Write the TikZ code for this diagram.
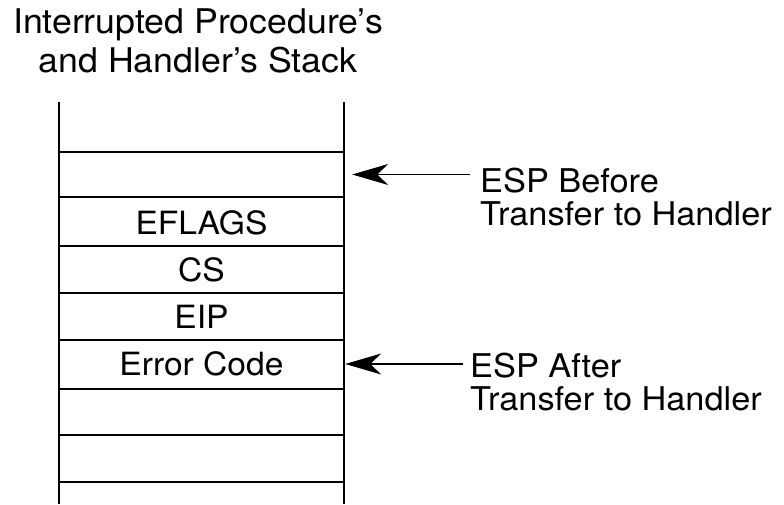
\documentclass[tikz,border=0pt]{standalone}
\usepackage{fontspec}
\setmainfont{TeX Gyre Heros}[FakeStretch=1.05]
\usetikzlibrary{arrows.meta}
\begin{document}
\begin{tikzpicture}[x=1pt,y=-1pt,
  every node/.style={inner sep=0pt},
  txt/.style={font=\fontsize{32}{33}\selectfont},
  rail/.style={line width=2.2pt},
  cell/.style={txt, minimum width=285pt, minimum height=46pt, text height=23pt, text depth=0pt},
  note/.style={font=\fontsize{32.7}{33}\selectfont, align=left, anchor=north west},
  ptr/.style={-{Stealth[length=36pt,width=21pt,inset=11pt]}}]
\useasboundingbox (0,0) rectangle (784,504);

% stack heading
\node[font=\fontsize{34}{39}\selectfont, align=center, anchor=north] (title) at (198,9)
  {Interrupted Procedure’s\\and Handler’s Stack};

% stack walls and slot separators
\draw[rail] (59,102) -- (59,504);
\draw[rail] (344,102) -- (344,504);
\foreach \y in {152,197,246,293,340,389,435,482}
  \draw[rail] (59,\y) -- (344,\y);

% stack slots
\node[cell] (c1) at (201.5,174.5) {};
\node[cell] (c2) at (201.5,223) {EFLAGS};
\node[cell] (c3) at (201.5,269.5) {CS};
\node[cell] (c4) at (201.5,316.5) {EIP};
\node[cell] (c5) at (201.5,364) {Error Code};

% stack pointer labels
\node[note] (before) at (480,168) {ESP Before\\Transfer to Handler};
\node[note] (after) at (470,353) {ESP After\\Transfer to Handler};

\draw[ptr, line width=1pt] ([xshift=-10pt]before.west |- c1.east) -- ([xshift=8pt]c1.east);
\draw[ptr, line width=2pt] ([xshift=-7pt]after.west |- c5.east) -- ([xshift=1pt]c5.east);
\end{tikzpicture}
\end{document}
